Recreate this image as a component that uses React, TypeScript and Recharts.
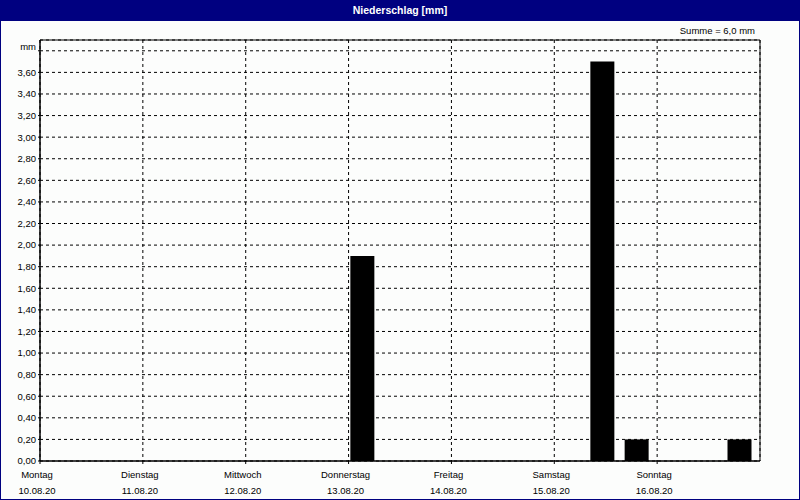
import React from 'react';
import { BarChart, Bar, XAxis, YAxis, CartesianGrid, ReferenceArea } from 'recharts';

// Stunden seit Montag 00:00 und Niederschlag je Intervall
const zeitpunkte = [75.25, 131.25, 139.25, 163.25];
const niederschlag = [1.9, 3.7, 0.2, 0.2];

const wochentage = ['Montag', 'Dienstag', 'Mittwoch', 'Donnerstag', 'Freitag', 'Samstag', 'Sonntag'];
const datumsangaben = ['10.08.20', '11.08.20', '12.08.20', '13.08.20', '14.08.20', '15.08.20', '16.08.20'];
const tagesTicks = [0, 24, 48, 72, 96, 120, 144];
const yTicks = [0, 0.2, 0.4, 0.6, 0.8, 1.0, 1.2, 1.4, 1.6, 1.8, 2.0, 2.2, 2.4, 2.6, 2.8, 3.0, 3.2, 3.4, 3.6, 3.8];

const data = zeitpunkte.map((t, i) => ({ t, mm: niederschlag[i] }));

const FONT = '"Liberation Sans", Arial, sans-serif';
const NAVY = '#000080';

const TagTick = (props: any) => {
  const { x, y, payload } = props;
  const idx = tagesTicks.indexOf(payload.value);
  return (
    <g>
      <text x={x - 3} y={y + 12} textAnchor="middle" fontSize={9.5} fontFamily={FONT} fill="#000">
        {wochentage[idx]}
      </text>
      <text x={x - 3} y={y + 28} textAnchor="middle" fontSize={9.5} fontFamily={FONT} fill="#000">
        {datumsangaben[idx]}
      </text>
    </g>
  );
};

const MmTick = (props: any) => {
  const { x, y, payload } = props;
  const top = Math.abs(payload.value - 3.8) < 1e-6;
  const label = top ? 'mm' : payload.value.toFixed(2).replace('.', ',');
  return (
    <text x={x} y={top ? y - 4 : y} dy="0.355em" textAnchor="end" fontSize={9.5} fontFamily={FONT} fill="#000">
      {label}
    </text>
  );
};

export default function App() {
  return (
    <div
      style={{
        position: 'fixed',
        left: 0,
        top: 0,
        width: 800,
        height: 500,
        boxSizing: 'border-box',
        border: `1px solid ${NAVY}`,
        background: '#fcfdfc',
        overflow: 'hidden',
      }}
    >
      <div
        style={{
          position: 'absolute',
          left: 0,
          top: 0,
          right: 0,
          height: 20,
          background: NAVY,
          color: '#fff',
          fontFamily: FONT,
          fontWeight: 'bold',
          fontSize: 10.5,
          lineHeight: '19px',
          textAlign: 'center',
        }}
      >
        Niederschlag [mm]
      </div>
      <div
        style={{
          position: 'absolute',
          right: 44,
          top: 24,
          fontFamily: FONT,
          fontSize: 9.5,
          color: '#000',
        }}
      >
        Summe = 6,0 mm
      </div>
      <div style={{ position: 'absolute', left: -1, top: -1 }}>
        <BarChart width={800} height={500} data={data} margin={{ top: 40, right: 40, bottom: 0, left: 0 }}>
          <CartesianGrid stroke="#000" strokeDasharray="3 3" horizontal vertical />
          <XAxis
            dataKey="t"
            type="number"
            domain={[0, 168]}
            ticks={tagesTicks}
            interval={0}
            height={39}
            tickSize={3}
            axisLine={{ stroke: '#000' }}
            tickLine={{ stroke: '#000' }}
            tick={<TagTick />}
            allowDataOverflow
          />
          <YAxis
            type="number"
            domain={[0, 3.9]}
            ticks={yTicks}
            interval={0}
            width={40}
            tickSize={2}
            axisLine={{ stroke: '#000' }}
            tickLine={{ stroke: '#000' }}
            tick={<MmTick />}
            allowDataOverflow
          />
          <ReferenceArea x1={0} x2={168} y1={0} y2={3.9} fill="none" stroke="#000" strokeWidth={1} ifOverflow="visible" />
          <Bar dataKey="mm" fill="#000" barSize={24} isAnimationActive={false} />
        </BarChart>
      </div>
    </div>
  );
}
